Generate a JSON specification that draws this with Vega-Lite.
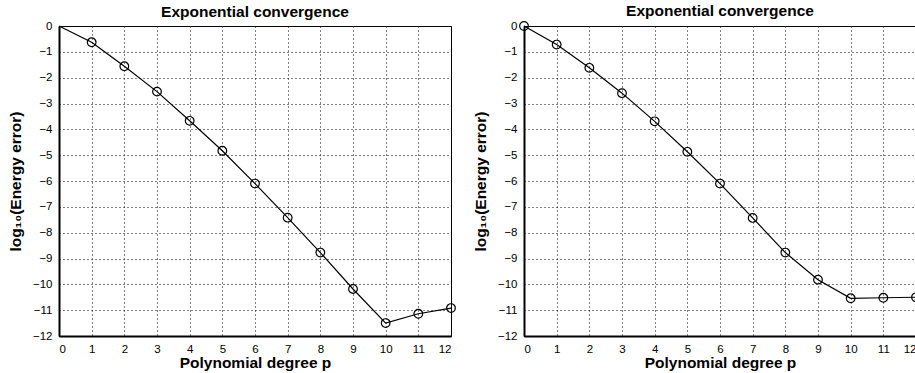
{
  "$schema": "https://vega.github.io/schema/vega-lite/v6.json",
  "background": "white",
  "padding": {"left": 7, "top": 3, "right": 0, "bottom": 0},
  "spacing": 13,
  "config": {
    "font": "Liberation Sans",
    "view": {"stroke": "black", "strokeWidth": 1},
    "axis": {
      "domainColor": "black", "domainWidth": 2, "ticks": false,
      "labelColor": "black", "labelFont": "Liberation Sans", "labelFontSize": 11.5, "labelPadding": 7,
      "titleFont": "Liberation Sans", "titleFontSize": 15.5, "titleFontWeight": "bold", "titleColor": "black",
      "grid": true, "gridColor": "black", "gridDash": [1, 3], "gridOpacity": 1, "gridWidth": 1
    },
    "title": {"font": "Liberation Sans", "fontSize": 15.5, "fontWeight": "bold", "color": "black", "offset": 3, "dy": 3}
  },
  "datasets": {
    "left": [
      {"p": 0, "err": 0},
      {"p": 1, "err": -0.63},
      {"p": 2, "err": -1.56},
      {"p": 3, "err": -2.54},
      {"p": 4, "err": -3.67},
      {"p": 5, "err": -4.83},
      {"p": 6, "err": -6.1},
      {"p": 7, "err": -7.42},
      {"p": 8, "err": -8.77},
      {"p": 9, "err": -10.18},
      {"p": 10, "err": -11.5},
      {"p": 11, "err": -11.14},
      {"p": 12, "err": -10.92}
    ],
    "right": [
      {"p": 0, "err": 0},
      {"p": 1, "err": -0.72},
      {"p": 2, "err": -1.62},
      {"p": 3, "err": -2.6},
      {"p": 4, "err": -3.69},
      {"p": 5, "err": -4.87},
      {"p": 6, "err": -6.1},
      {"p": 7, "err": -7.43},
      {"p": 8, "err": -8.77},
      {"p": 9, "err": -9.82},
      {"p": 10, "err": -10.54},
      {"p": 11, "err": -10.52},
      {"p": 12, "err": -10.5}
    ]
  },
  "hconcat": [
    {
      "width": 392, "height": 310,
      "title": "Exponential convergence",
      "data": {"name": "left"},
      "encoding": {
        "x": {"field": "p", "type": "quantitative", "scale": {"domain": [0, 12], "nice": false},
              "axis": {"values": [0,1,2,3,4,5,6,7,8,9,10,11,12], "title": "Polynomial degree p", "titlePadding": 1}},
        "y": {"field": "err", "type": "quantitative", "scale": {"domain": [-12, 0], "nice": false},
              "axis": {"values": [0,-1,-2,-3,-4,-5,-6,-7,-8,-9,-10,-11,-12], "title": "log₁₀(Energy error)", "titlePadding": 9}}
      },
      "layer": [
        {"mark": {"type": "line", "color": "black", "strokeWidth": 1.2}},
        {"transform": [{"filter": "datum.p > 0"}],
         "mark": {"type": "point", "shape": "circle", "filled": false, "color": "black", "size": 75, "strokeWidth": 1.2, "opacity": 1}}
      ]
    },
    {
      "width": 392, "height": 310,
      "title": "Exponential convergence",
      "data": {"name": "right"},
      "encoding": {
        "x": {"field": "p", "type": "quantitative", "scale": {"domain": [0, 12], "nice": false},
              "axis": {"values": [0,1,2,3,4,5,6,7,8,9,10,11,12], "title": "Polynomial degree p", "titlePadding": 1}},
        "y": {"field": "err", "type": "quantitative", "scale": {"domain": [-12, 0], "nice": false},
              "axis": {"values": [0,-1,-2,-3,-4,-5,-6,-7,-8,-9,-10,-11,-12], "title": "log₁₀(Energy error)", "titlePadding": 9}}
      },
      "layer": [
        {"mark": {"type": "line", "color": "black", "strokeWidth": 1.2}},
        {"mark": {"type": "point", "shape": "circle", "filled": false, "color": "black", "size": 75, "strokeWidth": 1.2, "opacity": 1}}
      ]
    }
  ]
}
